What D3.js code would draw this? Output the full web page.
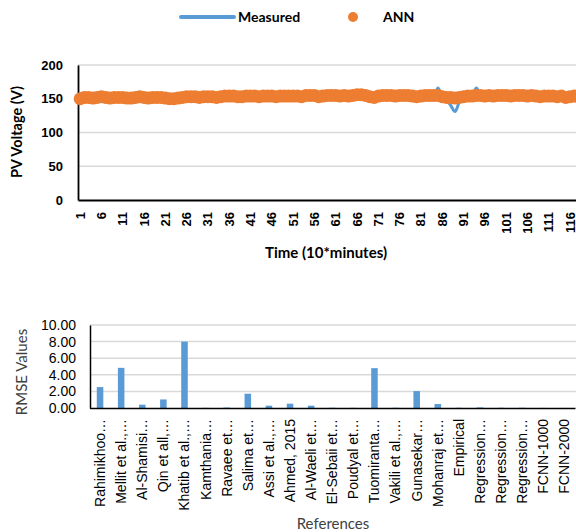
<!DOCTYPE html>
<html>
<head>
<meta charset="utf-8">
<style>
    body { margin: 0; background: #fff; }
    svg { display: block; font-family: Lato, "Open Sans", sans-serif; }
    .grid line { stroke: #d9d9d9; stroke-width: 1.5; }
    .top-tick { font-size: 13px; font-weight: 700; fill: #000; }
    .bot-tick { font-size: 14px; fill: #000; }
    .bot-label { font-size: 14px; fill: #000; }
    .title-bold { font-size: 14.5px; font-weight: 700; fill: #000; }
    .legend { font-size: 14px; font-weight: 700; fill: #000; }
    .title { font-size: 15px; fill: #404040; }
</style>
<title>PV voltage and RMSE</title>
</head>
<body>
<svg width="576" height="532"></svg>

<script src="https://d3js.org/d3.v7.min.js"></script>
<script>
    // top chart: PV voltage, every 10 minutes
    let measured = [
        150,152,153,151,152,153,152,151,152,153,
        152,151,150,152,153,152,151,152,153,152,
        151,150,149,150,152,153,154,153,152,153,
        154,153,152,153,154,155,154,153,152,154,
        155,154,153,154,155,154,153,154,155,154,
        155,154,153,156,160,155,153,154,155,158,
        156,154,155,154,156,157,162,155,153,151,
        154,155,156,155,154,155,156,155,154,153,
        154,155,156,155,166,152,148,140,131,145,
        153,155,154,166,156,154,155,154,155,156,
        155,154,155,156,155,154,155,154,153,154,
        155,154,153,154,152,153,154,153,154,155
    ]
    let ann = [
        150,152,152,151,152,153,152,151,152,152,
        152,151,151,152,153,152,151,152,152,152,
        151,150,150,151,152,153,153,153,152,153,
        153,153,152,153,154,154,154,153,153,154,
        154,154,153,154,154,154,153,154,154,154,
        154,154,153,155,155,155,153,154,155,155,
        155,154,155,154,155,156,156,155,153,152,
        154,155,155,155,154,155,155,155,154,153,
        154,155,155,155,155,153,152,152,151,152,
        153,154,154,155,155,154,155,154,155,155,
        155,154,155,155,155,154,155,154,153,154,
        154,154,153,154,152,153,154,153,154,154
    ]
    let voltTicks = [0, 50, 100, 150, 200]

    // bottom chart: RMSE by reference
    let refs = [
        "Rahimikhoo…", "Mellit et al.,…", "Al-Shamisi…", "Qin et all,…",
        "Khatib et al.,…", "Kamthania…", "Ravaee et…", "Salima et…",
        "Assi et al.,…", "Ahmed, 2015", "Al-Waeli et…", "El-Sebaii et…",
        "Poudyal et…", "Tuomiranta…", "Vakili et al.,…", "Gunasekar…",
        "Mohanraj et…", "Empirical", "Regression…", "Regression…",
        "Regression…", "FCNN-1000", "FCNN-2000"
    ]
    let rmse = [2.52, 4.84, 0.4, 1.03, 8.0, 0.02, 0.05, 1.72, 0.28, 0.52, 0.28, 0.03,
        0.02, 4.8, 0.03, 2.04, 0.48, 0.03, 0.07, 0.03, 0.03, 0.01, 0.01]
    let rmseTicks = [0, 2, 4, 6, 8, 10]

    let blue = "#5b9bd5", orange = "#ed7d31"
    let svg = d3.select("svg")

    // ---------- top chart ----------
    let idx = measured.map((d, i) => i + 1)
    let x1 = d3.scaleBand().domain(idx).range([78, 78 + idx.length * 4.26])
    let y1 = d3.scaleLinear().domain([0, 200]).range([200, 65])

    svg.append("g").attr("class", "grid")
        .selectAll("line").data(voltTicks.filter(d => d > 0)).join("line")
        .attr("x1", 78).attr("x2", 576)
        .attr("y1", d => y1(d)).attr("y2", d => y1(d))

    let yAxis1 = svg.append("g")
        .attr("transform", "translate(78,0)")
        .call(d3.axisLeft(y1).tickValues(voltTicks).tickSize(0).tickPadding(15))
    yAxis1.select(".domain").attr("stroke", "#000").attr("stroke-width", 1.8)
    yAxis1.selectAll("text").attr("class", "top-tick")

    let xAxis1 = svg.append("g")
        .attr("transform", "translate(0,200)")
        .call(d3.axisBottom(x1).tickValues(idx.filter(d => d % 5 == 1)).tickSize(0))
    xAxis1.select(".domain").attr("stroke", "#000").attr("stroke-width", 1.8)
    xAxis1.selectAll("text")
        .attr("class", "top-tick")
        .attr("transform", "rotate(-90)")
        .attr("text-anchor", "end")
        .attr("x", -12).attr("y", 0).attr("dy", "0.35em")

    let line = d3.line()
        .x((d, i) => x1(i + 1) + x1.bandwidth() / 2)
        .y(d => y1(d))
        .curve(d3.curveMonotoneX)

    svg.append("path").datum(measured)
        .attr("d", line)
        .attr("fill", "none")
        .attr("stroke", blue)
        .attr("stroke-width", 3)

    svg.append("g").selectAll("circle").data(ann).join("circle")
        .attr("cx", (d, i) => x1(i + 1) + x1.bandwidth() / 2)
        .attr("cy", d => y1(d))
        .attr("r", 6.5)
        .attr("fill", orange)

    svg.append("text").attr("class", "title-bold")
        .attr("transform", "translate(22,132) rotate(-90)")
        .attr("text-anchor", "middle")
        .text("PV Voltage (V)")

    svg.append("text").attr("class", "title-bold")
        .attr("x", 326).attr("y", 258)
        .attr("text-anchor", "middle")
        .style("font-size", "15px")
        .text("Time (10*minutes)")

    // legend
    svg.append("line")
        .attr("x1", 181).attr("x2", 234).attr("y1", 17).attr("y2", 17)
        .attr("stroke", blue).attr("stroke-width", 4).attr("stroke-linecap", "round")
    svg.append("text").attr("class", "legend")
        .attr("x", 238).attr("y", 22).text("Measured")
    svg.append("circle").attr("cx", 353).attr("cy", 17).attr("r", 5).attr("fill", orange)
    svg.append("text").attr("class", "legend")
        .attr("x", 383).attr("y", 22).text("ANN")

    // ---------- bottom chart ----------
    let x2 = d3.scaleBand().domain(refs.map((d, i) => i)).range([89.5, 575]).paddingInner(0.69).paddingOuter(0.345)
    let y2 = d3.scaleLinear().domain([0, 10]).range([408, 325])

    svg.append("g").attr("class", "grid")
        .selectAll("line").data(rmseTicks.filter(d => d > 0)).join("line")
        .attr("x1", 90).attr("x2", 576)
        .attr("y1", d => y2(d)).attr("y2", d => y2(d))

    svg.append("g").selectAll("rect").data(rmse).join("rect")
        .attr("x", (d, i) => x2(i))
        .attr("width", x2.bandwidth())
        .attr("y", d => y2(d))
        .attr("height", d => y2(0) - y2(d))
        .attr("fill", blue)

    let yAxis2 = svg.append("g")
        .attr("transform", "translate(90,0)")
        .call(d3.axisLeft(y2).tickValues(rmseTicks).tickSize(0).tickPadding(14).tickFormat(d3.format(".2f")))
    yAxis2.select(".domain").attr("stroke", "#000").attr("stroke-width", 1.5)
    yAxis2.selectAll("text").attr("class", "bot-tick")

    let xAxis2 = svg.append("g")
        .attr("transform", "translate(0,408)")
        .call(d3.axisBottom(x2).tickSize(0).tickFormat(i => refs[i]))
    xAxis2.select(".domain").attr("stroke", "#000").attr("stroke-width", 1.5)
    xAxis2.selectAll("text")
        .attr("class", "bot-label")
        .attr("transform", "rotate(-90)")
        .attr("text-anchor", "end")
        .attr("x", -11).attr("y", 0).attr("dy", "0.35em")

    svg.append("text").attr("class", "title")
        .attr("transform", "translate(27,372) rotate(-90)")
        .attr("text-anchor", "middle")
        .text("RMSE Values")

    svg.append("text").attr("class", "title")
        .attr("x", 333).attr("y", 529)
        .attr("text-anchor", "middle")
        .text("References")
</script>
</body>
</html>
